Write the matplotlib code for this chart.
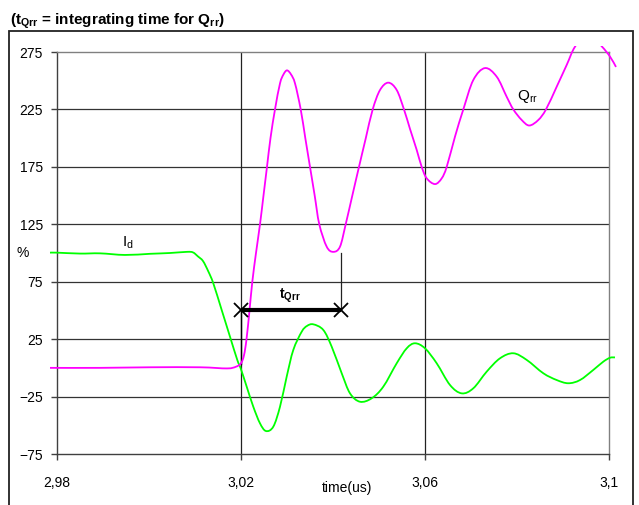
import numpy as np
import matplotlib.pyplot as plt
from matplotlib.patches import Rectangle, PathPatch
from matplotlib.path import Path
from matplotlib.transforms import Bbox, TransformedBbox

plt.rcParams['font.family'] = ['Liberation Sans', 'DejaVu Sans']
plt.rcParams['mathtext.fontset'] = 'custom'
plt.rcParams['mathtext.rm'] = 'Liberation Sans'
plt.rcParams['mathtext.it'] = 'Liberation Sans'
plt.rcParams['mathtext.bf'] = 'Liberation Sans:bold'

# time in us, values in %
t_id = [2.97848, 2.98, 2.985, 2.98935, 2.99478, 3.00022, 3.00457, 3.00826,
        3.00957, 3.01065, 3.01174, 3.01289, 3.01398, 3.0158, 3.01761, 3.0192,
        3.01993, 3.02124, 3.02267, 3.02413, 3.02543, 3.02702, 3.02848, 3.02993,
        3.03137, 3.0332, 3.03435, 3.03572, 3.03789, 3.03972, 3.04189, 3.0437,
        3.04587, 3.04841, 3.05093, 3.05385, 3.05602, 3.05783, 3.06, 3.06254,
        3.06543, 3.06798, 3.0705, 3.07341, 3.0763, 3.0792, 3.08211, 3.08572,
        3.08863, 3.09115, 3.0937, 3.09659, 3.09876, 3.10022, 3.1013]
id_pct = [100.3, 100.3, 99.5, 99.7, 98.3, 99.3, 100.0, 101.0,
          100.5, 97.0, 93.0, 84.0, 73.6, 50.4, 27.1, 6.8,
          -0.4, -16.4, -33.8, -48.3, -55.0, -51.2, -33.8, -7.7,
          15.6, 31.5, 36.5, 37.9, 33.0, 18.4, -4.7, -22.2,
          -29.5, -26.5, -16.4, 4.0, 17.0, 21.4, 17.0, 4.0,
          -14.9, -22.2, -17.8, -3.3, 8.3, 12.7, 6.9, -4.7,
          -10.6, -13.4, -10.6, -1.8, 5.4, 8.8, 9.1]

t_qrr = [2.97848, 2.98935, 3.00022, 3.01109, 3.01696, 3.01891, 3.02, 3.02065,
         3.0212, 3.02185, 3.02246, 3.02326, 3.02413, 3.02489, 3.02565, 3.02641,
         3.02739, 3.02848, 3.02924, 3.03, 3.03087, 3.03174, 3.03298, 3.03398,
         3.035, 3.03602, 3.03702, 3.03863, 3.04007, 3.04152, 3.04276, 3.0442,
         3.04565, 3.04713, 3.04863, 3.05022, 3.05202, 3.05385, 3.05543, 3.05674,
         3.0582, 3.05928, 3.06037, 3.06217, 3.06363, 3.06472, 3.06652, 3.06833,
         3.0705, 3.07304, 3.07559, 3.07776, 3.0792, 3.08102, 3.08267, 3.08463,
         3.0863, 3.08863, 3.0908, 3.09261, 3.09543, 3.09841, 3.10022, 3.10152]
qrr_pct = [0.0, 0.0, 0.5, 0.5, -0.5, 1.0, 4.0, 11.0,
           25.0, 50.0, 75.0, 100.0, 125.0, 150.0, 175.0, 200.0,
           225.0, 247.7, 255.5, 259.0, 255.5, 247.7, 225.0, 200.0,
           175.0, 150.0, 125.0, 105.5, 101.0, 105.5, 125.0, 150.0,
           175.0, 200.0, 225.0, 241.9, 248.3, 241.9, 225.0, 208.0,
           189.7, 175.0, 165.0, 160.0, 165.0, 175.0, 201.3, 225.0,
           250.6, 261.0, 253.5, 236.0, 225.0, 215.8, 211.0, 215.8,
           225.0, 244.8, 263.7, 279.6, 292.0, 280.0, 271.0, 262.0]

# integrating window for Qrr
t_start = 3.02
t_end = 3.0417
level = 50

x_ticks = [2.98, 3.02, 3.06, 3.10]
x_labels = ["2,98", "3,02", "3,06", "3,1"]
y_ticks = [-75, -25, 25, 75, 125, 175, 225, 275]


def smooth_path(xs, ys):
    # Catmull-Rom through the samples, written as cubic Bezier segments
    p = np.column_stack([xs, ys])
    p = np.vstack([p[0], p, p[-1]])
    verts = [p[1]]
    codes = [Path.MOVETO]
    for i in range(1, len(p) - 2):
        c1 = p[i] + (p[i + 1] - p[i - 1]) / 6
        c2 = p[i + 1] - (p[i + 2] - p[i]) / 6
        verts += [c1, c2, p[i + 1]]
        codes += [Path.CURVE4] * 3
    return Path(verts, codes)


fig = plt.figure(figsize=(6.39, 5.05), dpi=100)
ax = fig.add_axes([57/639, 1 - 454/505, 552/639, 402/505])

ax.set_xlim(2.98, 3.10)
ax.set_ylim(-75, 275)
ax.set_xticks(x_ticks)
ax.set_xticklabels(x_labels)
ax.set_yticks(y_ticks)
ax.tick_params(axis='y', direction='out', length=4, width=1, pad=6,
               labelsize=10, color='#404040')
ax.tick_params(axis='x', direction='out', length=4, width=1, pad=12,
               labelsize=10, color='#404040')

for y in y_ticks[1:-1]:
    ax.axhline(y, color='#333333', lw=0.9, zorder=1)
for x in x_ticks[1:-1]:
    ax.axvline(x, color='#222222', lw=0.9, zorder=1)

ax.spines['left'].set_color('#404040')
ax.spines['bottom'].set_color('#404040')
ax.spines['top'].set_color('#808080')
ax.spines['right'].set_color('#808080')
for s in ax.spines.values():
    s.set_linewidth(1.0)

# curves run a little past the plot area, cut just above 275
clip = TransformedBbox(Bbox([[2.9780, -80], [3.1020, 280]]), ax.transData)
for xs, ys, col in [(t_id, id_pct, '#00ff00'), (t_qrr, qrr_pct, '#ff00ff')]:
    patch = PathPatch(smooth_path(xs, ys), fill=False, ec=col, lw=1.3,
                      zorder=3, transform=ax.transData)
    ax.add_patch(patch)
    patch.set_clip_path(None)
    patch.set_clip_box(clip)

ax.plot([t_start, t_end], [level, level], color='black', lw=3, zorder=4,
        solid_capstyle='butt')
ax.plot([t_start, t_end], [level, level], ls='none', marker='x', ms=10,
        mew=1.3, color='black', zorder=5)
ax.plot([t_end, t_end], [level, 100], color='#222222', lw=0.9, zorder=2)
ax.plot([t_start, t_start], [3, level], color='black', lw=1.0, zorder=2)
ax.text((t_start + t_end) / 2 - 0.0003, level + 5, r"t$_{\mathbf{Qrr}}$",
        fontsize=10, fontweight='bold', ha='center', va='bottom')

ax.text(2.9942, 109, r"I$_\mathrm{d}$", fontsize=11, ha='left', va='center')
ax.text(3.0800, 236, r"Q$_\mathrm{rr}$", fontsize=11, ha='left', va='center')

fig.text(23/639, 1 - 253/505, "%", fontsize=10, ha='center', va='center')
fig.text(347/639, 1 - 488/505, "time(us)", fontsize=10, ha='center',
         va='center')
fig.text(10/639, 1 - 21/505,
         r"(t$_{\mathbf{Qrr}}$ = integrating time for Q$_{\mathbf{rr}}$)",
         fontsize=11, fontweight='bold', ha='left', va='center')

fig.add_artist(Rectangle((9/639, -0.1), 624/639, (505 - 31)/505 + 0.1,
                         transform=fig.transFigure, fill=False, lw=1.3,
                         ec='#222222'))

fig.savefig("out.png", dpi=100)
